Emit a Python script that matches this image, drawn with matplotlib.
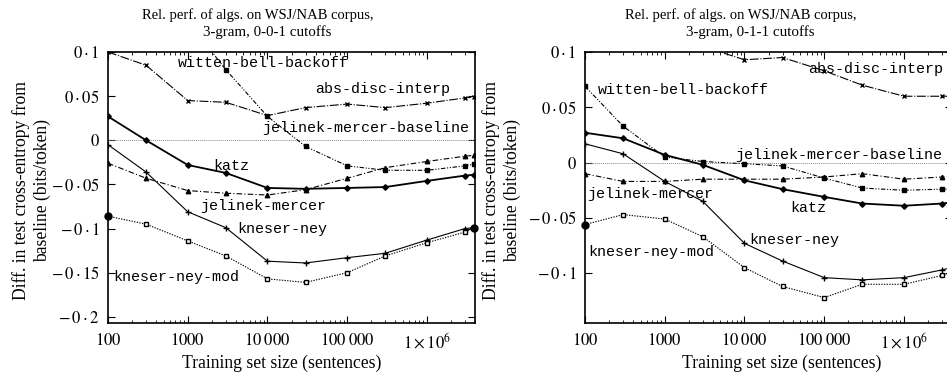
import matplotlib
matplotlib.use("Agg")
import matplotlib.pyplot as plt
from matplotlib.ticker import FixedLocator, FixedFormatter, LogLocator, NullFormatter

plt.rcParams['font.family'] = ['Liberation Serif', 'DejaVu Serif']
plt.rcParams['mathtext.fontset'] = 'stix'

# ---------------- data ----------------
sizes = [100, 300, 1000, 3000, 10000, 30000, 100000, 300000, 1000000, 3000000, 3900000]

# left panel: 0-0-1 cutoffs
l_abs = [0.100, 0.085, 0.045, 0.043, 0.028, 0.037, 0.041, 0.037, 0.042, 0.048, 0.049]
l_wb = [0.200, 0.170, 0.135, 0.080, 0.027, -0.007, -0.029, -0.034, -0.034, -0.029, -0.027]
l_jm = [-0.026, -0.043, -0.057, -0.060, -0.062, -0.056, -0.043, -0.031, -0.024, -0.018, -0.017]
l_katz = [0.027, 0.000, -0.028, -0.037, -0.054, -0.055, -0.054, -0.053, -0.046, -0.040, -0.039]
l_kn = [-0.005, -0.036, -0.081, -0.099, -0.137, -0.139, -0.133, -0.128, -0.113, -0.100, -0.099]
l_knm = [-0.086, -0.095, -0.114, -0.131, -0.157, -0.161, -0.150, -0.131, -0.116, -0.104, -0.099]

# right panel: 0-1-1 cutoffs
r_abs = [0.140, 0.130, 0.120, 0.105, 0.093, 0.095, 0.083, 0.070, 0.060, 0.060, 0.060]
r_wb = [0.069, 0.033, 0.005, 0.001, -0.001, -0.003, -0.014, -0.023, -0.025, -0.024, -0.024]
r_jm = [-0.010, -0.017, -0.017, -0.015, -0.015, -0.015, -0.013, -0.010, -0.015, -0.013, -0.013]
r_katz = [0.027, 0.022, 0.007, -0.002, -0.016, -0.024, -0.031, -0.037, -0.039, -0.037, -0.036]
r_kn = [0.017, 0.008, -0.017, -0.035, -0.073, -0.089, -0.104, -0.106, -0.104, -0.097, -0.095]
r_knm = [-0.056, -0.047, -0.051, -0.067, -0.095, -0.112, -0.122, -0.110, -0.110, -0.102, -0.100]

title_line1 = "Rel. perf. of algs. on WSJ/NAB corpus,"
title_line2 = ["3-gram, 0-0-1 cutoffs", "3-gram, 0-1-1 cutoffs"]
xtick_vals = [100, 1000, 10000, 100000, 1000000]
xtick_labels = [r"$100$", r"$1000$", r"$10\;000$", r"$100\;000$", r"$1\times10^{6}$"]
l_ytick_vals = [0.1, 0.05, 0, -0.05, -0.1, -0.15, -0.2]
l_ytick_labels = [r"$0\cdot1$", r"$0\cdot05$", r"$0$", r"${-}\,0\cdot05$", r"${-}\,0\cdot1$",
                  r"${-}\,0\cdot15$", r"${-}\,0\cdot2$"]
r_ytick_vals = [0.1, 0.05, 0, -0.05, -0.1]
r_ytick_labels = [r"$0\cdot1$", r"$0\cdot05$", r"$0$", r"${-}\,0\cdot05$", r"${-}\,0\cdot1$"]

W, H = 947, 377
fig = plt.figure(figsize=(W / 100, H / 100), dpi=100)

def px(x0, y0, x1, y1):
    return [x0 / W, 1 - y1 / H, (x1 - x0) / W, (y1 - y0) / H]

axL = fig.add_axes(px(108, 52, 475, 323))
axR = fig.add_axes(px(585, 52, 952, 323))

mono = ['Liberation Mono', 'DejaVu Sans Mono']
lw = 0.8

def draw(ax, abs_, wb, jm, katz, kn, knm, ylim, yv, yl, ylab_x, xlab_x):
    ax.set_xscale('log')
    ax.axhline(0, color='#888888', lw=0.7, ls=(0, (1, 1)))
    ax.plot(sizes, abs_, color='black', lw=lw, ls=(0, (8, 1.5, 1, 1.5)), marker='x', ms=3.5, mew=1.0)
    ax.plot(sizes, wb, color='black', lw=lw, ls=(0, (4, 1.5, 1, 1.5, 1, 1.5)), marker='s', ms=2.8)
    ax.plot(sizes, jm, color='black', lw=lw, ls=(0, (5, 2, 1, 2)), marker='^', ms=3.2)
    ax.plot(sizes, katz, color='black', lw=1.3, ls='-', marker='D', ms=2.8)
    ax.plot(sizes, kn, color='black', lw=lw, ls='-', marker='+', ms=4, mew=1.0)
    ax.plot(sizes, knm, color='black', lw=lw, ls=(0, (1.2, 1.2)), marker='s', ms=3.5,
            mfc='white', mew=1.0)
    ax.plot([sizes[0], sizes[-1]], [knm[0], knm[-1]], color='black', marker='o', ms=5,
            ls='none', clip_on=False)
    ax.set_xlim(100, 4.0e6)
    ax.set_ylim(*ylim)
    ax.xaxis.set_major_locator(FixedLocator(xtick_vals))
    ax.xaxis.set_major_formatter(FixedFormatter(xtick_labels))
    ax.xaxis.set_minor_locator(LogLocator(base=10, subs=range(2, 10)))
    ax.xaxis.set_minor_formatter(NullFormatter())
    ax.yaxis.set_major_locator(FixedLocator(yv))
    ax.yaxis.set_major_formatter(FixedFormatter(yl))
    ax.tick_params(which='both', direction='in', top=True, right=True, labelsize=12)
    ax.tick_params(which='major', length=5, width=0.8)
    ax.tick_params(which='minor', length=2.5, width=0.6)
    ax.tick_params(axis='x', pad=7)
    ax.tick_params(axis='y', pad=6)
    for s in ax.spines.values():
        s.set_linewidth(1.2)
    ax.set_xlabel("Training set size (sentences)", fontsize=12.7)
    ax.xaxis.set_label_coords(xlab_x, -0.118)
    ax.set_ylabel("Diff. in test cross-entropy from\nbaseline (bits/token)", fontsize=12.7,
                  linespacing=1.3)
    ax.yaxis.set_label_coords(ylab_x, 0.49)

draw(axL, l_abs, l_wb, l_jm, l_katz, l_kn, l_knm, (-0.207, 0.1), l_ytick_vals, l_ytick_labels,
     (51 - 108) / 367, (282 - 108) / 367)
draw(axR, r_abs, r_wb, r_jm, r_katz, r_kn, r_knm, (-0.145, 0.1), r_ytick_vals, r_ytick_labels,
     (521 - 585) / 367, (782 - 585) / 367)

# titles (two lines, centred as in the reference)
for (c1, c2), l2 in zip([(258, 267), (741, 750)], title_line2):
    fig.text(c1 / W, 1 - 15.5 / H, title_line1, fontsize=10.5, ha='center', va='center')
    fig.text(c2 / W, 1 - 32.5 / H, l2, fontsize=10.8, ha='center', va='center')

# in-plot labels (pixel positions: left x, centre y)
labels = [
    ("witten-bell-backoff", 178, 63),
    ("abs-disc-interp", 315, 89),
    ("jelinek-mercer-baseline", 262, 128),
    ("katz", 213, 166),
    ("jelinek-mercer", 200, 206),
    ("kneser-ney", 237, 229),
    ("kneser-ney-mod", 113, 277),
    ("witten-bell-backoff", 598, 90),
    ("abs-disc-interp", 808, 69),
    ("jelinek-mercer-baseline", 735, 155),
    ("jelinek-mercer", 587, 194),
    ("katz", 790, 208),
    ("kneser-ney", 749, 240),
    ("kneser-ney-mod", 588, 252),
]
for t, x, y in labels:
    fig.text(x / W, 1 - y / H, t, family=mono, fontsize=10.8, ha='left', va='center')

fig.savefig("out.png", dpi=100)
